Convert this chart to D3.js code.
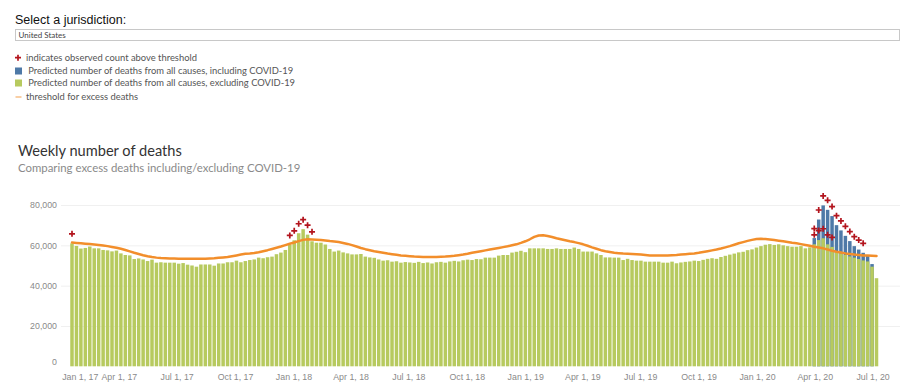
<!DOCTYPE html>
<html>
<head>
<meta charset="utf-8">
<script src="https://cdn.jsdelivr.net/npm/d3@7"></script>
<style>
  body { margin: 0; background: #fff; }
  svg { display: block; font-family: Lato, "Noto Sans", sans-serif; }
</style>
</head>
<body>
<svg id="chart" width="900" height="388"></svg>
<script>
// ---------------- DATA ----------------
const firstWeekEnding = "2017-01-07";   // weekly categories (week-ending dates)
const weekCount = 182;

// Predicted number of deaths from all causes, excluding COVID-19 (per week)
const excludingCovid = [
  61000,59700,58400,58700,59400,58500,58500,57700,57500,57000,
  57400,56000,55200,55000,53200,53500,53000,52200,52900,51400,
  51600,51400,51400,51400,50900,51200,50400,50000,49400,50500,
  50500,50500,49900,51000,51000,51600,51600,52400,51600,52200,
  52700,53000,53900,53600,54100,54400,55600,56400,57700,60200,
  62500,66000,68000,65300,62000,61300,61300,60400,58200,56900,
  57400,56500,56000,55500,55500,55700,54400,54000,53800,53000,
  52400,52600,51900,52100,51400,51700,51500,51300,51800,51200,
  51500,51000,51600,51800,51400,52000,52300,52000,52600,52900,
  52700,53200,53100,53900,53900,53900,54900,55200,55200,56400,
  56800,57300,56600,58500,58500,58500,58500,58200,58200,58500,
  58200,58200,58200,58900,58200,56900,56900,56900,56000,55200,
  54000,54000,53900,53900,52700,53300,52700,52400,52400,51900,
  51900,51900,51900,51400,51400,51900,51100,51500,51800,52000,
  52400,52200,52800,53300,53600,53300,54200,54800,55400,55900,
  56500,56800,57600,58000,58900,59600,60300,60600,60200,60500,
  60000,59600,59300,59300,59600,58500,59000,60500,62600,63500,
  60500,59200,57000,56000,55200,54500,53900,53200,52500,52000,
  49400,43700
];

// Threshold for excess deaths (per week)
const threshold = [
  61400,61200,61000,60800,60600,60400,60200,59900,59600,59200,
  58800,58300,57700,57000,56300,55700,55100,54600,54200,53900,
  53700,53600,53500,53500,53400,53400,53400,53300,53300,53400,
  53400,53500,53600,53800,54000,54200,54600,55000,55400,55800,
  55900,56200,56600,57100,57600,58200,58800,59400,60100,60800,
  61400,62100,62700,63000,62900,62800,62600,62400,62100,61900,
  61600,61200,60700,60100,59400,58700,58100,57600,57100,56700,
  56300,55900,55600,55300,55000,54800,54600,54400,54300,54200,
  54200,54200,54200,54300,54400,54600,54800,55100,55400,55800,
  56300,56700,57100,57500,57900,58300,58700,59100,59500,60000,
  60500,61200,62000,63000,64200,64900,65000,64600,64100,63500,
  63000,62500,62000,61600,61100,60500,59800,59000,58300,57600,
  57100,56700,56300,56100,55900,55800,55700,55600,55400,55200,
  55000,54900,54900,54900,55000,55100,55200,55400,55600,55800,
  56000,56300,56700,57100,57500,57900,58400,59000,59600,60300,
  61000,61600,62200,62700,63100,63200,63100,62900,62600,62300,
  62000,61700,61300,61000,60600,60200,59800,59300,58900,58500,
  57900,57300,56800,56400,56000,55700,55400,55200,55000,54900,
  54800,54700
];

// Predicted number of deaths from all causes, including COVID-19 (weeks where it differs)
const covidWeeks = ["2020-03-21","2020-03-28","2020-04-04","2020-04-11","2020-04-18","2020-04-25",
  "2020-05-02","2020-05-09","2020-05-16","2020-05-23","2020-05-30","2020-06-06","2020-06-13","2020-06-20"];
const includingCovid = [63600,72800,79800,77600,74500,70000,67400,64700,62100,59600,57900,56300,55200,50700];

// Weeks where the observed count is above threshold
const aboveExcludingWeeks = ["2017-01-07","2017-12-16","2017-12-23","2017-12-30","2018-01-06","2018-01-13","2018-01-20",
  "2020-03-21","2020-03-28","2020-04-04","2020-04-11","2020-04-18"];
const aboveIncludingWeeks = ["2020-03-21","2020-03-28","2020-04-04","2020-04-11","2020-04-18","2020-04-25",
  "2020-05-02","2020-05-09","2020-05-16","2020-05-23","2020-05-30","2020-06-06"];

const xTickDates = ["2017-01-01","2017-04-01","2017-07-01","2017-10-01","2018-01-01","2018-04-01","2018-07-01",
  "2018-10-01","2019-01-01","2019-04-01","2019-07-01","2019-10-01","2020-01-01","2020-04-01","2020-07-01"];
const xTickLabels = ["Jan 1, 17","Apr 1, 17","Jul 1, 17","Oct 1, 17","Jan 1, 18","Apr 1, 18","Jul 1, 18",
  "Oct 1, 18","Jan 1, 19","Apr 1, 19","Jul 1, 19","Oct 1, 19","Jan 1, 20","Apr 1, 20","Jul 1, 20"];
const yTicks = [0, 20000, 40000, 60000, 80000];

const legendItems = [
  {type: "cross", label: "indicates observed count above threshold"},
  {type: "blue",  label: "Predicted number of deaths from all causes, including COVID-19"},
  {type: "green", label: "Predicted number of deaths from all causes, excluding COVID-19"},
  {type: "line",  label: "threshold for excess deaths"}
];

// ---------------- STYLES ----------------
const C = { green: "#b7ca5f", blue: "#4e79a7", orange: "#f28e2b", cross: "#b3141d",
            text: "#555", axis: "#8a8a8a", grid: "#f0f0f0" };

const parse = d3.utcParse("%Y-%m-%d");
const start = parse(firstWeekEnding);
const weeks = d3.range(weekCount).map(i => d3.utcDay.offset(start, 7 * i));
const byKey = d => d3.utcFormat("%Y-%m-%d")(d);

const svg = d3.select("#chart");

// ---------------- HEADER ----------------
svg.append("text").attr("x", 15).attr("y", 23.5)
  .style("font-family", "'Liberation Sans', Arial, sans-serif").style("font-size", "12.5px").attr("fill", "#111")
  .text("Select a jurisdiction:");
svg.append("rect").attr("x", 15.5).attr("y", 29.5).attr("width", 884).attr("height", 11)
  .attr("fill", "#fff").attr("stroke", "#c8c8c8");
svg.append("text").attr("x", 18.5).attr("y", 37.5)
  .style("font-size", "8px").attr("fill", "#444").text("United States");

// ---------------- LEGEND ----------------
const legendY = [57.7, 71, 83, 97];
const lg = svg.append("g");
legendItems.forEach((it, i) => {
  const cy = legendY[i];
  const g = lg.append("g");
  if (it.type === "cross") {
    g.append("path").attr("d", `M${15},${cy}H${21}M${18},${cy - 3}V${cy + 3}`)
      .attr("stroke", C.cross).attr("stroke-width", 1.7);
  } else if (it.type === "line") {
    g.append("line").attr("x1", 15.5).attr("x2", 21.5).attr("y1", cy).attr("y2", cy)
      .attr("stroke", C.orange).attr("stroke-width", 1.2).attr("opacity", 0.7);
  } else {
    g.append("rect").attr("x", 15).attr("y", cy - 3.5).attr("width", 7).attr("height", 7)
      .attr("fill", it.type === "blue" ? C.blue : C.green);
  }
  g.append("text").attr("x", it.type === "blue" || it.type === "green" ? 28.3 : 26).attr("y", cy)
    .attr("dy", "0.35em").style("font-size", "9.4px").attr("fill", C.text).text(it.label);
});

// ---------------- TITLE ----------------
svg.append("text").attr("x", 18).attr("y", 150.7).attr("dy", "0.35em")
  .style("font-size", "14.6px").attr("fill", "#333").text("Weekly number of deaths");
svg.append("text").attr("x", 18).attr("y", 168.3).attr("dy", "0.35em")
  .style("font-size", "11.4px").attr("fill", "#8a8a8a").text("Comparing excess deaths including/excluding COVID-19");

// ---------------- SCALES ----------------
const x = d3.scaleUtc().domain([weeks[0], weeks[weekCount - 1]]).range([72, 876.5]);
const y = d3.scaleLinear().domain([0, 80000]).range([366.3, 205]);
const barW = 3.5;

// grid + y axis
const yAxis = d3.axisLeft(y).tickValues(yTicks).tickFormat(d3.format(",")).tickSize(0).tickPadding(0);
const gy = svg.append("g").attr("transform", "translate(57,0)").call(yAxis);
gy.select(".domain").remove();
gy.selectAll("text").style("font-size", "8.8px").attr("fill", C.axis)
  .attr("dy", d => d === 0 ? "-0.25em" : "0.32em");
svg.append("g").selectAll("line").data(yTicks.filter(d => d > 0)).join("line")
  .attr("x1", 61).attr("x2", 900).attr("y1", d => y(d) + 0.5).attr("y2", d => y(d) + 0.5)
  .attr("stroke", C.grid).attr("stroke-width", 1);

// ---------------- BARS ----------------
const blueData = covidWeeks.map((w, i) => ({ d: parse(w), v: includingCovid[i] }));
svg.append("g").selectAll("rect").data(blueData).join("rect")
  .attr("x", d => x(d.d) - barW / 2).attr("width", barW)
  .attr("y", d => y(d.v)).attr("height", d => y(0) - y(d.v)).attr("fill", C.blue);

const greenData = weeks.map((d, i) => ({ d, v: excludingCovid[i] }));
svg.append("g").selectAll("rect").data(greenData).join("rect")
  .attr("x", d => x(d.d) - barW / 2).attr("width", barW)
  .attr("y", d => y(d.v)).attr("height", d => y(0) - y(d.v)).attr("fill", C.green);

// ---------------- THRESHOLD LINE ----------------
const line = d3.line().x((d, i) => x(weeks[i])).y(d => y(d));
svg.append("path").datum(threshold).attr("d", line)
  .attr("fill", "none").attr("stroke", C.orange).attr("stroke-width", 2.5)
  .attr("stroke-linejoin", "round").attr("stroke-linecap", "round");

// ---------------- CROSSES ----------------
const exclMap = new Map(weeks.map((d, i) => [byKey(d), excludingCovid[i]]));
const inclMap = new Map(covidWeeks.map((w, i) => [w, includingCovid[i]]));
const crossData = aboveExcludingWeeks.map(w => ({ d: parse(w), v: exclMap.get(w) }))
  .concat(aboveIncludingWeeks.map(w => ({ d: parse(w), v: inclMap.get(w) })));
const crossOffset = 9.5;
svg.append("g").selectAll("path").data(crossData).join("path")
  .attr("transform", d => `translate(${x(d.d)},${y(d.v) - crossOffset})`)
  .attr("d", "M-3,0H3M0,-3V3").attr("stroke", C.cross).attr("stroke-width", 1.7).attr("fill", "none");

// ---------------- X AXIS ----------------
const xAxis = d3.axisBottom(x).tickValues(xTickDates.map(parse))
  .tickFormat((d, i) => xTickLabels[i]).tickSize(0).tickPadding(0);
const gx = svg.append("g").attr("transform", "translate(-6.5,374)").call(xAxis);
gx.select(".domain").remove();
gx.selectAll("text").style("font-size", "8.8px").attr("fill", C.axis)
  .attr("text-anchor", (d, i) => i === 0 ? "start" : "middle");
</script>
</body>
</html>
